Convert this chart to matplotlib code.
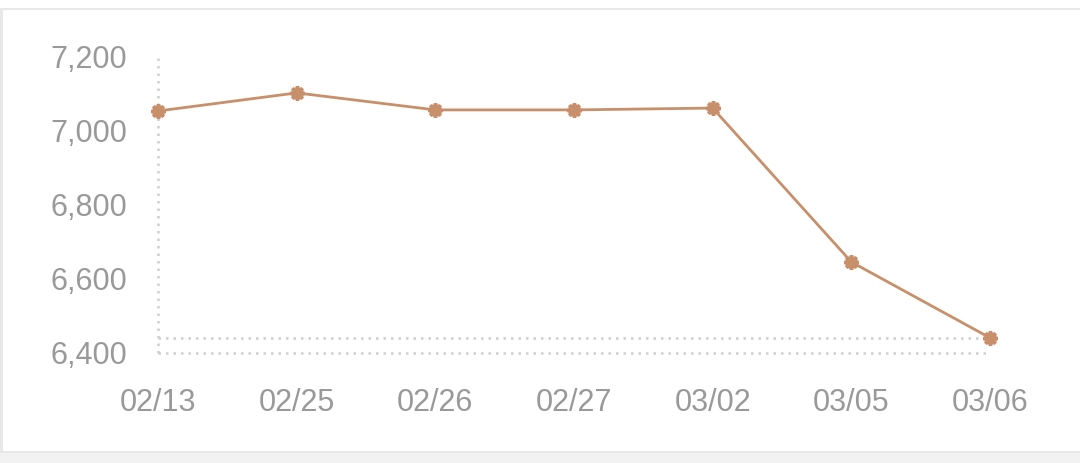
import matplotlib
matplotlib.use('Agg')
import matplotlib.pyplot as plt
from matplotlib.patches import Rectangle
from matplotlib.ticker import FuncFormatter

# data
dates = ['02/13', '02/25', '02/26', '02/27', '03/02', '03/05', '03/06']
values = [7054, 7103, 7057, 7057, 7062, 6646, 6441]
yticks = [6400, 6600, 6800, 7000, 7200]

plt.rcParams['font.family'] = ['Liberation Sans', 'DejaVu Sans']

fig = plt.figure(figsize=(10.8, 4.63), dpi=100)
fig.patch.set_facecolor('white')

# card frame
fig.add_artist(Rectangle((0, 0), 1, 10 / 463, transform=fig.transFigure, color='#f2f2f2', lw=0))
fig.add_artist(Rectangle((0, 453 / 463), 1, 2 / 463, transform=fig.transFigure, color='#e8e8e8', lw=0))
fig.add_artist(Rectangle((0, 10 / 463), 1, 2 / 463, transform=fig.transFigure, color='#e8e8e8', lw=0))
fig.add_artist(Rectangle((0, 10 / 463), 3 / 1080, 445 / 463, transform=fig.transFigure, color='#e8e8e8', lw=0))

ax = fig.add_axes([158 / 1080, 110 / 463, 832 / 1080, 296 / 463])
x = list(range(len(dates)))

ax.set_xlim(0, len(dates) - 1)
ax.set_ylim(yticks[0], yticks[-1])
for s in ax.spines.values():
    s.set_visible(False)

# dotted guide lines
grid_kw = dict(color='#cfcfcf', ls=(0, (1, 2)), lw=1.8, zorder=1, clip_on=False)
ax.axvline(0, **grid_kw)
ax.axhline(yticks[0], **grid_kw)
ax.axhline(min(values), **grid_kw)

ax.plot(x, values, color='#c8906a', lw=2, marker=(8, 1, 0), markersize=10,
        markeredgewidth=2.5, zorder=3, clip_on=False)

ax.set_xticks(x)
ax.set_xticklabels(dates)
ax.set_yticks(yticks)
ax.yaxis.set_major_formatter(FuncFormatter(lambda v, p: f'{int(v):,}'))
ax.tick_params(length=0, colors='#999999', labelsize=22)
ax.tick_params(axis='y', pad=22)
ax.tick_params(axis='x', pad=25)

fig.savefig('out.png', dpi=100)
